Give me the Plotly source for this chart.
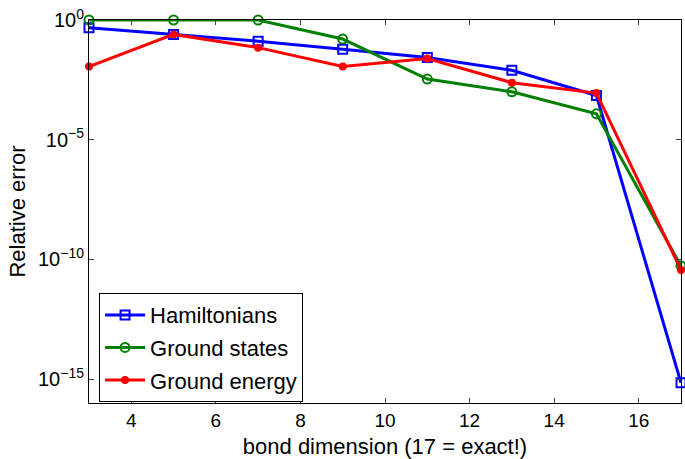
import plotly.graph_objects as go

bond_dim = [3, 5, 7, 9, 11, 13, 15, 17]
hamiltonians = [0.48, 0.25, 0.13, 0.06, 0.027, 0.008, 7e-4, 7e-16]
ground_states = [1.0, 1.0, 1.0, 0.16, 3.4e-3, 1.0e-3, 1.2e-4, 5.3e-11]
ground_energy = [0.0114, 0.25, 0.07, 0.0114, 0.0245, 2.4e-3, 8.9e-4, 3.6e-11]
y_tickvals = [1e-15, 1e-10, 1e-5, 1e0]
y_ticktext = ["10<sup>−15</sup>", "10<sup>−10</sup>", "10<sup>−5</sup>", "10<sup>0</sup>"]

fig = go.Figure()
fig.add_trace(go.Scatter(x=bond_dim, y=hamiltonians, mode="lines+markers", name="Hamiltonians",
                         legendgroup="a", cliponaxis=False,
                         line=dict(color="#0000FF", width=3),
                         marker=dict(symbol="square-open", size=9, color="#0000FF", line=dict(width=2))))
fig.add_trace(go.Scatter(x=bond_dim, y=ground_states, mode="lines+markers", name="Ground states",
                         legendgroup="b", cliponaxis=False,
                         line=dict(color="#008000", width=3),
                         marker=dict(symbol="circle-open", size=9, color="#008000", line=dict(width=2))))
fig.add_trace(go.Scatter(x=bond_dim, y=ground_energy, mode="lines+markers", name="Ground energy",
                         legendgroup="c", cliponaxis=False,
                         line=dict(color="#FF0000", width=3),
                         marker=dict(symbol="circle", size=8, color="#FF0000")))

fam = "Liberation Sans"
fig.update_layout(
    width=685, height=459,
    margin=dict(l=89, r=4, t=20, b=56, autoexpand=False),
    paper_bgcolor="white", plot_bgcolor="white",
    font=dict(family=fam, size=18, color="black"),
    showlegend=True,
    legend=dict(x=0.017, y=0.287, xanchor="left", yanchor="top",
                bordercolor="black", borderwidth=1, bgcolor="white",
                font=dict(family=fam, size=22, color="black"), tracegroupgap=1, itemwidth=40),
    xaxis=dict(range=[3, 17], tick0=4, dtick=2, ticks="inside", ticklen=5,
               tickfont=dict(family=fam, size=19, color="black"),
               showline=True, linecolor="black", linewidth=1, mirror="ticks",
               showgrid=False, zeroline=False,
               title=dict(text="bond dimension (17 = exact!)", standoff=9,
                          font=dict(family=fam, size=22, color="black"))),
    yaxis=dict(type="log", range=[-16, 0], tickvals=y_tickvals, ticktext=y_ticktext,
               ticks="inside", ticklen=5, tickfont=dict(family=fam, size=20, color="black"),
               showline=True, linecolor="black", linewidth=1, mirror="ticks",
               showgrid=False, zeroline=False,
               title=dict(text="Relative error", standoff=6,
                          font=dict(family=fam, size=22, color="black"))),
)
fig.write_html("out.html", config={"displayModeBar": False},
               post_script="document.body.style.margin='0';")
